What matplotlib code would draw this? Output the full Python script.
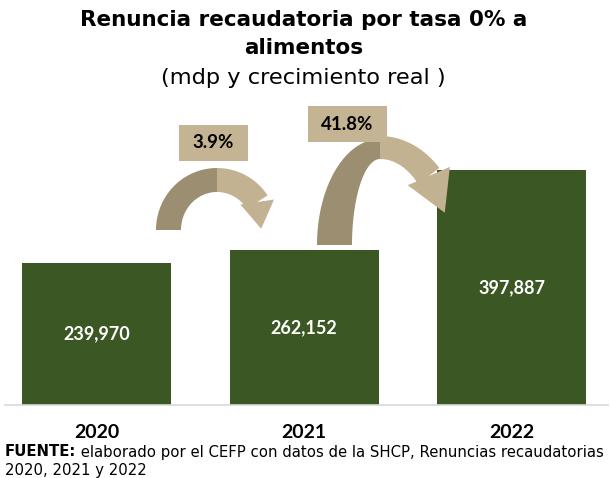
import matplotlib
matplotlib.use("Agg")
import matplotlib.pyplot as plt
import numpy as np
from matplotlib.patches import Polygon, Rectangle

# ---- data ----
years = ["2020", "2021", "2022"]
values = [239970, 262152, 397887]
value_labels = ["239,970", "262,152", "397,887"]
growth_labels = ["3.9%", "41.8%"]

title_l1 = "Renuncia recaudatoria por tasa 0% a"
title_l2 = "alimentos"
subtitle = "(mdp y crecimiento real )"
source_bold = "FUENTE:"
source_rest = " elaborado por el CEFP con datos de la SHCP, Renuncias recaudatorias"
source_l2 = "2020, 2021 y 2022"

NUMFONT = "Lato"
TXTFONT = "DejaVu Sans"
BAR = "#3B5724"
DARK = "#9C8F71"
LIGHT = "#C3B292"
BOX = "#C4B494"

W, H = 611, 478
fig = plt.figure(figsize=(W / 100, H / 100), dpi=100)
fig.patch.set_facecolor("white")

ax_left, ax_right, ax_top, ax_bot = 5, 608, 105, 405
ax = fig.add_axes([ax_left / W, 1 - ax_bot / H, (ax_right - ax_left) / W, (ax_bot - ax_top) / H])
x = np.arange(len(years))
ax.bar(x, values, width=0.718, color=BAR, zorder=2)
ax.set_xlim(-0.441, 2.465)
ax.set_ylim(0, 507941)
for xi, v, lab in zip(x, values, value_labels):
    ax.text(xi, v / 2, lab, ha="center", va="center", color="white",
            fontsize=13, fontweight="bold", family=NUMFONT, zorder=3)
ax.set_xticks(x)
ax.set_xticklabels(years, fontsize=14, fontweight="bold", family=NUMFONT)
ax.tick_params(axis="x", length=0, pad=14)
ax.set_yticks([])
for s in ["top", "left", "right"]:
    ax.spines[s].set_visible(False)
ax.spines["bottom"].set_color("#D9D9D9")
ax.spines["bottom"].set_linewidth(1.2)
ax.set_facecolor("none")

ov = fig.add_axes([0, 0, 1, 1], zorder=5)
ov.set_xlim(0, W)
ov.set_ylim(H, 0)
ov.axis("off")
ov.set_facecolor("none")


def band(cx, cy, a0, a1, ro, ri, n=60):
    a = np.radians(np.linspace(a0, a1, n))
    outer = np.column_stack([cx + ro[0] * np.cos(a), cy - ro[1] * np.sin(a)])
    inner = np.column_stack([cx + ri[0] * np.cos(a), cy - ri[1] * np.sin(a)])
    poly = np.vstack([outer, inner[::-1]])
    mid = (outer[-1] + inner[-1]) / 2
    return poly, mid


def head(base, direction, width, length):
    d = np.array(direction, float)
    d /= np.linalg.norm(d)
    nrm = np.array([-d[1], d[0]])
    return np.array([base + nrm * width / 2, base + d * length, base - nrm * width / 2])


def curved_arrow(cx, cy, left_o, left_i, right_o, right_i, a_end, hdir, hw, hl):
    pl, _ = band(cx, cy, 180, 90, left_o, left_i)
    pr, mid = band(cx, cy, 90, a_end, right_o, right_i)
    ov.add_patch(Polygon(pl, closed=True, facecolor=DARK, edgecolor="none", zorder=2))
    ov.add_patch(Polygon(pr, closed=True, facecolor=LIGHT, edgecolor="none", zorder=3))
    ov.add_patch(Polygon(head(mid, hdir, hw, hl), closed=True, facecolor=LIGHT,
                         edgecolor="none", zorder=3))


curved_arrow(217, 230, (61, 62), (36, 38), (61, 62), (36, 38), 34, (0.15, 1.0), 34, 27)
curved_arrow(380, 245, (63, 106), (28, 86), (84, 109), (54, 86), 45, (0.4, 0.92), 46, 40)

boxes = [(179, 125, 69, 36), (308, 106, 79, 36)]
for (bx, by, bw, bh), lab in zip(boxes, growth_labels):
    ov.add_patch(Rectangle((bx, by), bw, bh, facecolor=BOX, edgecolor="none", zorder=6))
    ov.text(bx + bw / 2, by + bh / 2, lab, ha="center", va="center", fontsize=13.5,
            fontweight="bold", family=NUMFONT, color="black", zorder=7)

fig.text(304 / W, 1 - 20 / H, title_l1, ha="center", va="center", fontsize=15.5,
         fontweight="bold", family=TXTFONT)
fig.text(304 / W, 1 - 48 / H, title_l2, ha="center", va="center", fontsize=15.5,
         fontweight="bold", family=TXTFONT)
fig.text(303 / W, 1 - 78 / H, subtitle, ha="center", va="center", fontsize=16.2,
         family=TXTFONT)

tb = fig.text(5 / W, 1 - 452 / H, source_bold, ha="left", va="center", fontsize=10.7,
              fontweight="bold", family=TXTFONT)
ov.annotate(source_rest, xy=(1, 0.5), xycoords=tb, ha="left", va="center",
            fontsize=10.7, family=TXTFONT)
fig.text(5 / W, 1 - 471 / H, source_l2, ha="left", va="center", fontsize=10.7,
         family=TXTFONT)

fig.savefig("out.png", dpi=100, facecolor="white")
